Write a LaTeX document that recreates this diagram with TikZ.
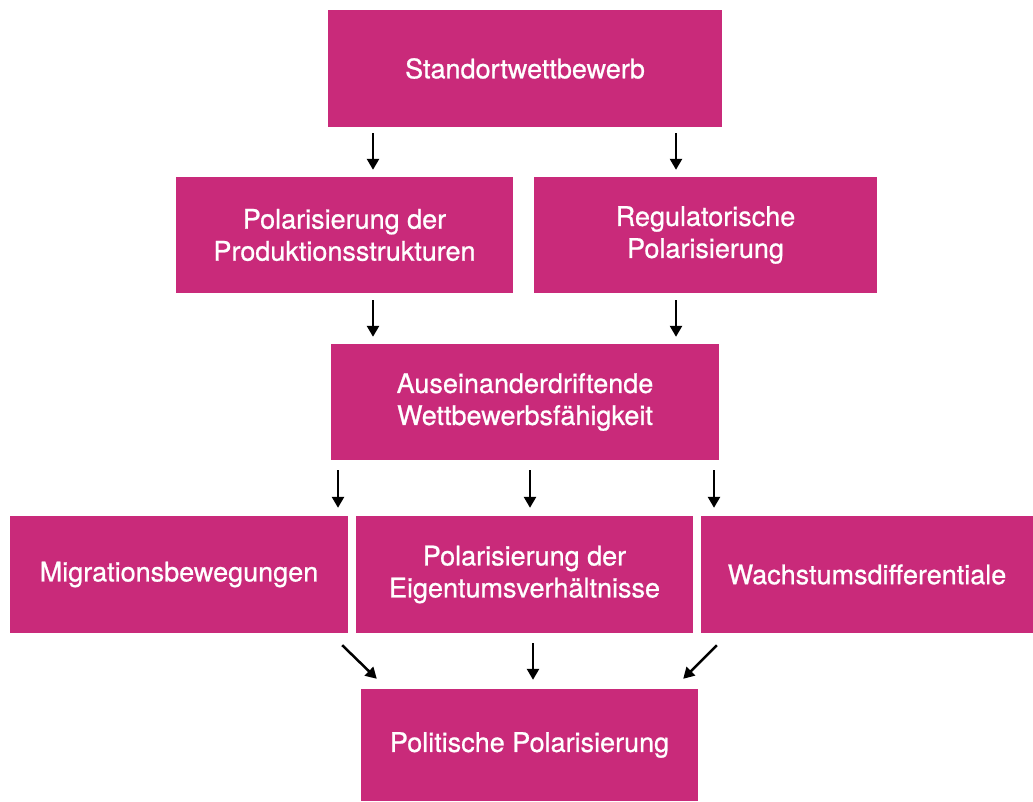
\documentclass[tikz,border=0pt]{standalone}
\usepackage{fontspec}
\setmainfont{TeX Gyre Heros}
\newfontface\boxfont{TeX Gyre Heros}[FakeBold=0.8]
\usetikzlibrary{arrows.meta}
\definecolor{boxpink}{RGB}{201,42,122}

\begin{document}
\begin{tikzpicture}[x=1pt, y=-1pt,
  box/.style={fill=boxpink, text=white, align=center, inner sep=0pt,
    font=\boxfont\fontsize{27}{32}\selectfont},
  arr/.style={-{Triangle[length=11pt,width=12pt]}, line width=2.5pt}]
\useasboundingbox (0,0) rectangle (1033,801);

\node [box, minimum width=394pt, minimum height=117pt] (std) at (525,68.5) {Standortwettbewerb};
\node [box, minimum width=337pt, minimum height=116pt] (prod) at (344.5,235) {Polarisierung der\\Produktionsstrukturen};
\node [box, minimum width=343pt, minimum height=116pt] (reg) at (705.5,235) {Regulatorische\\Polarisierung};
\node [box, minimum width=388pt, minimum height=116pt] (aus) at (525,402) {Auseinanderdriftende\\Wettbewerbsfähigkeit};
\node [box, minimum width=338pt, minimum height=117pt] (mig) at (179,574.5) {Migrationsbewegungen};
\node [box, minimum width=337pt, minimum height=117pt] (eig) at (524.5,574.5) {Polarisierung der\\Eigentumsverhältnisse};
\node [box, minimum width=332pt, minimum height=117pt] (wachs) at (867,574.5) {Wachstumsdifferentiale};
\node [box, minimum width=337pt, minimum height=112pt] (pol) at (529.5,745) {Politische Polarisierung};

\draw [arr, shorten <=6pt, shorten >=7pt] ([xshift=-152pt]std.south) -- ([xshift=28.5pt]prod.north);
\draw [arr, shorten <=6pt, shorten >=7pt] ([xshift=151pt]std.south) -- ([xshift=-29.5pt]reg.north);

\draw [arr, shorten <=7pt, shorten >=7pt] ([xshift=28.5pt]prod.south) -- ([xshift=-152pt]aus.north);
\draw [arr, shorten <=7pt, shorten >=7pt] ([xshift=-29.5pt]reg.south) -- ([xshift=151pt]aus.north);

\draw [arr, shorten <=10pt, shorten >=8pt] ([xshift=-187pt]aus.south) -- ([xshift=159pt]mig.north);
\draw [arr, shorten <=10pt, shorten >=8pt] ([xshift=5pt]aus.south) -- ([xshift=5.5pt]eig.north);
\draw [arr, shorten <=10pt, shorten >=8pt] ([xshift=189pt]aus.south) -- ([xshift=-153pt]wachs.north);

\draw [arr] ([xshift=-6pt,yshift=-12pt]mig.south east) -- ([xshift=16pt,yshift=10pt]pol.north west);
\draw [arr, shorten <=10pt, shorten >=9pt] ([xshift=8.5pt]eig.south) -- ([xshift=3.5pt]pol.north);
\draw [arr] ([xshift=16pt,yshift=-12pt]wachs.south west) -- ([xshift=-15pt,yshift=10pt]pol.north east);
\end{tikzpicture}
\end{document}
